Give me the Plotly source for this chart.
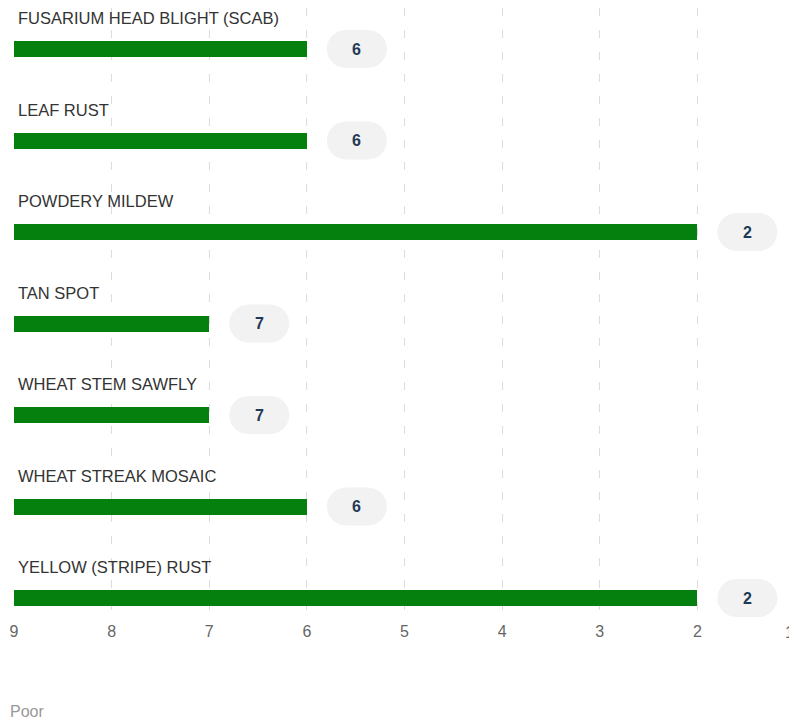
import plotly.graph_objects as go

categories = ["FUSARIUM HEAD BLIGHT (SCAB)", "LEAF RUST", "POWDERY MILDEW", "TAN SPOT",
              "WHEAT STEM SAWFLY", "WHEAT STREAK MOSAIC", "YELLOW (STRIPE) RUST"]
values = [6, 6, 2, 7, 7, 6, 2]
tick_vals = [9, 8, 7, 6, 5, 4, 3, 2, 1]
axis_note = "Poor"

start = 9
pos = list(range(len(categories)))
FONT = "Liberation Sans, Arial, sans-serif"

fig = go.Figure()
fig.add_trace(go.Bar(
    y=pos, x=[v - start for v in values], base=start, orientation="h",
    width=0.175, marker=dict(color="#05800f", line=dict(width=0)),
    hoverinfo="skip", showlegend=False,
))

k = 0.5523
def pill(cx, w=60, h=38):
    r = h / 2
    x0 = cx - w / 2 + r
    x1 = cx + w / 2 - r
    c = k * r
    return (f"M {x0},{-r} L {x1},{-r} "
            f"C {x1 + c},{-r} {x1 + r},{-c} {x1 + r},0 "
            f"C {x1 + r},{c} {x1 + c},{r} {x1},{r} "
            f"L {x0},{r} "
            f"C {x0 - c},{r} {x0 - r},{c} {x0 - r},0 "
            f"C {x0 - r},{-c} {x0 - c},{-r} {x0},{-r} Z")

shapes = []
annotations = []
for i, (c, v) in enumerate(zip(categories, values)):
    shapes.append(dict(type="path", xref="x", yref="y", xsizemode="pixel", ysizemode="pixel",
                       xanchor=v, yanchor=i, path=pill(50),
                       fillcolor="#f2f2f2", line=dict(width=0), layer="below"))
    annotations.append(dict(x=v, y=i, xref="x", yref="y", text=f"<b>{v}</b>", showarrow=False,
                            xshift=50, font=dict(size=16, color="#1f3a55", family=FONT)))
    annotations.append(dict(x=start, y=i, xref="x", yref="y", text=c, showarrow=False,
                            xanchor="left", yanchor="middle", xshift=2, yshift=31,
                            font=dict(size=16.5, color="#333333", family=FONT)))

annotations.append(dict(xref="paper", yref="paper", x=0, y=-0.150, text=axis_note, showarrow=False,
                        xanchor="left", yanchor="middle", xshift=-6,
                        font=dict(size=16, color="#999999", family=FONT)))
# edge tick label (clipped at the right edge, as in the original)
annotations.append(dict(xref="x", yref="paper", x=tick_vals[-1], y=0, text=str(tick_vals[-1]),
                        showarrow=False, xanchor="right", yanchor="middle", xshift=1, yshift=-12,
                        font=dict(size=16, color="#666666", family=FONT)))

fig.update_layout(
    width=789, height=717,
    margin=dict(l=6, r=2, t=0, b=105),
    paper_bgcolor="white", plot_bgcolor="white",
    shapes=shapes, annotations=annotations,
    bargap=0,
    xaxis=dict(range=[9, 1], tickvals=tick_vals[:-1], ticktext=[str(t) for t in tick_vals[:-1]],
               showgrid=True, gridcolor="#dcdcdc", griddash="8px,14px", gridwidth=1,
               zeroline=False, showline=False, ticks="",
               tickfont=dict(size=16, color="#666666", family=FONT),
               fixedrange=True),
    yaxis=dict(range=[6.24, -0.448], showticklabels=False, showgrid=False, zeroline=False,
               fixedrange=True),
)

fig.write_html("out.html")
